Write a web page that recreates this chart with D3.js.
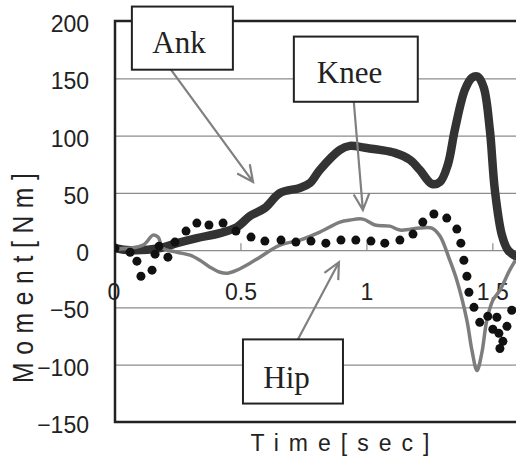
<!DOCTYPE html>
<html>
<head>
<meta charset="utf-8">
<script src="https://cdnjs.cloudflare.com/ajax/libs/d3/7.8.5/d3.min.js"></script>
<style>
	body { margin: 0; background: #fff; }
	svg { display: block; }
</style>
</head>
<body>
<div id="canvas"></div>
<script>
// ankle moment (thick dark line)
const ankTime = [0, 0.06, 0.179, 0.246, 0.325, 0.417, 0.484, 0.536, 0.595, 0.655, 0.734, 0.774, 0.813, 0.893, 0.933, 0.992, 1.052, 1.111, 1.171, 1.21, 1.258, 1.29, 1.321, 1.349, 1.389, 1.417, 1.44, 1.464, 1.488, 1.508, 1.536, 1.56, 1.59];
const ankMoment = [1.8, 0, 1.8, 6.1, 10.5, 14.9, 20.1, 29.8, 36.8, 49.9, 54.3, 58.6, 70, 87.5, 91, 89.3, 87.5, 84.9, 78.8, 70, 57.8, 59.5, 74.4, 105, 140, 150.5, 151.4, 141.8, 105, 52.5, 13.1, 0, -5.3];

// knee moment (gray line)
const kneeTime = [0, 0.111, 0.151, 0.171, 0.19, 0.246, 0.298, 0.337, 0.377, 0.417, 0.448, 0.484, 0.536, 0.575, 0.655, 0.734, 0.813, 0.893, 0.933, 0.984, 1.032, 1.091, 1.131, 1.21, 1.258, 1.29, 1.329, 1.357, 1.397, 1.417, 1.437, 1.456, 1.476, 1.5, 1.528, 1.567, 1.59];
const kneeMoment = [0.9, 4.4, 13.1, 11.4, 1.8, -1.8, -4.4, -8.8, -14.9, -19.3, -20.1, -17.5, -11.4, -6.1, 4.4, 8.8, 15.8, 24.5, 26.3, 27.1, 21.9, 21, 17.5, 19.3, 19.3, 12.3, -8.8, -26.3, -61.3, -87.5, -105, -90, -61.3, -43.8, -35, -17.5, -8.8];

// hip moment (dots)
const hipTime = [0, 0.06, 0.087, 0.103, 0.147, 0.159, 0.175, 0.21, 0.238, 0.282, 0.325, 0.373, 0.429, 0.48, 0.54, 0.595, 0.659, 0.718, 0.778, 0.837, 0.897, 0.956, 1.016, 1.071, 1.131, 1.183, 1.222, 1.266, 1.317, 1.357, 1.373, 1.385, 1.397, 1.405, 1.425, 1.448, 1.48, 1.516, 1.5, 1.524, 1.54, 1.528, 1.556, 1.575];
const hipMoment = [1.8, -1.8, -9.6, -22.8, -17.5, -3.5, 3.5, -6.1, 7, 16.6, 23.6, 21.9, 23.6, 16.6, 11.4, 7.9, 8.8, 7, 7.9, 6.1, 8.8, 8.8, 7.9, 6.1, 8.8, 14, 24.5, 31.5, 28, 18.4, 6.1, -8.8, -22.8, -36.8, -49.9, -63, -57.8, -58.6, -69, -72.6, -79.6, -85.8, -66.5, -52.5];

const yTicks = [-150, -100, -50, 0, 50, 100, 150, 200];
const xTicks = [0, 0.5, 1, 1.5];

const labels = ["Ank", "Knee", "Hip"];

// callout boxes, in data units
const callouts = [
	{ t0: 0.067, t1: 0.468, v0: 212.6, v1: 157.5, tx: 0.254, ty: 172.4, from: [0.222, 157.5], to: [0.548, 59.5] },
	{ t0: 0.71, t1: 1.202, v0: 186.4, v1: 129.5, tx: 0.931, ty: 146.1, from: [0.948, 129.5], to: [0.984, 35] },
	{ t0: 0.508, t1: 0.905, v0: -77.9, v1: -133.9, tx: 0.681, ty: -119.9, from: [0.726, -77.9], to: [0.889, -10.5] }
];

let width = 516;
let height = 461;
let plotLeft = 115, plotTop = 21, plotBottom = 422;

let svg = d3
	.select("#canvas")
	.append("svg")
	.attr("width", width)
	.attr("height", height);

let x = d3.scaleLinear().domain([0, 1.6]).range([plotLeft, plotLeft + 1.6 * 251.9]);
let y = d3.scaleLinear().domain([-150, 200]).range([plotBottom, plotTop]);

svg.append("defs")
	.append("clipPath")
	.attr("id", "plot")
	.append("rect")
	.attr("x", plotLeft)
	.attr("y", plotTop)
	.attr("width", width - plotLeft)
	.attr("height", plotBottom - plotTop);

// grid
svg
	.append("g")
	.selectAll("line")
	.data(yTicks.filter((d) => d > -150 && d < 200))
	.enter()
	.append("line")
	.attr("x1", plotLeft)
	.attr("x2", width)
	.attr("y1", (d) => y(d) + 0.5)
	.attr("y2", (d) => y(d) + 0.5)
	.attr("stroke", "#8c8c8c")
	.attr("stroke-width", 1.2);

// x ticks on zero line
svg
	.append("g")
	.selectAll("line")
	.data(xTicks.slice(1))
	.enter()
	.append("line")
	.attr("x1", (d) => x(d))
	.attr("x2", (d) => x(d))
	.attr("y1", y(0) - 7)
	.attr("y2", y(0))
	.attr("stroke", "#8c8c8c")
	.attr("stroke-width", 1.2);

// frame
svg.append("path")
	.attr("d", `M${width},${plotTop}H${plotLeft}V${plotBottom}H${width}`)
	.attr("fill", "none")
	.attr("stroke", "#222")
	.attr("stroke-width", 2.5);

// tick labels
svg
	.append("g")
	.selectAll("text")
	.data(yTicks)
	.enter()
	.append("text")
	.attr("x", 89)
	.attr("y", (d) => y(d) + 11)
	.attr("text-anchor", "end")
	.attr("font-family", "Liberation Sans, Arial, sans-serif")
	.attr("font-size", 23)
	.attr("fill", "#222")
	.text((d) => (d < 0 ? "\u2212" + Math.abs(d) : d));

svg
	.append("g")
	.selectAll("text")
	.data(xTicks)
	.enter()
	.append("text")
	.attr("x", (d) => x(d) - (d === 0 ? 1 : 0))
	.attr("y", y(0) + 50)
	.attr("text-anchor", "middle")
	.attr("font-family", "Liberation Sans, Arial, sans-serif")
	.attr("font-size", 23)
	.attr("fill", "#222")
	.text((d) => d);

// axis titles
svg.append("text")
	.attr("transform", "translate(33,383) rotate(-90) scale(0.85,1)")
	.attr("font-family", "Liberation Sans, Arial, sans-serif")
	.attr("font-size", 29)
	.attr("letter-spacing", 9)
	.attr("fill", "#222")
	.text("Moment[Nm]");

svg.append("text")
	.attr("x", 250.5)
	.attr("y", 451)
	.attr("font-family", "Liberation Sans, Arial, sans-serif")
	.attr("font-size", 23)
	.attr("letter-spacing", 10)
	.attr("fill", "#222")
	.text("Time[sec]");

// series
let plot = svg.append("g").attr("clip-path", "url(#plot)");

let line = d3
	.line()
	.x((d) => x(d[0]))
	.y((d) => y(d[1]))
	.curve(d3.curveCatmullRom.alpha(0.5));

plot.append("path")
	.attr("d", line(d3.zip(ankTime, ankMoment)))
	.attr("fill", "none")
	.attr("stroke", "#333")
	.attr("stroke-width", 8.5)
	.attr("stroke-linejoin", "round")
	.attr("stroke-linecap", "round");

plot.append("path")
	.attr("d", line(d3.zip(kneeTime, kneeMoment)))
	.attr("fill", "none")
	.attr("stroke", "#7d7d7d")
	.attr("stroke-width", 3.5)
	.attr("stroke-linejoin", "round");

plot
	.append("g")
	.selectAll("circle")
	.data(d3.zip(hipTime, hipMoment))
	.enter()
	.append("circle")
	.attr("cx", (d) => x(d[0]))
	.attr("cy", (d) => y(d[1]))
	.attr("r", 4.5)
	.attr("fill", "#111");

// callouts
let arrow = function (a, b) {
	let x1 = x(a[0]), y1 = y(a[1]), x2 = x(b[0]), y2 = y(b[1]);
	let ang = Math.atan2(y2 - y1, x2 - x1);
	let len = 18, spread = 0.45;
	let p = d3.path();
	p.moveTo(x1, y1);
	p.lineTo(x2, y2);
	p.moveTo(x2 - len * Math.cos(ang - spread), y2 - len * Math.sin(ang - spread));
	p.lineTo(x2, y2);
	p.lineTo(x2 - len * Math.cos(ang + spread), y2 - len * Math.sin(ang + spread));
	return p.toString();
};

let notes = svg
	.append("g")
	.selectAll("g")
	.data(callouts)
	.enter()
	.append("g");

notes.append("path")
	.attr("d", (d) => arrow(d.from, d.to))
	.attr("fill", "none")
	.attr("stroke", "#808080")
	.attr("stroke-width", 2.2);

notes.append("rect")
	.attr("x", (d) => x(d.t0))
	.attr("y", (d) => y(d.v0))
	.attr("width", (d) => x(d.t1) - x(d.t0))
	.attr("height", (d) => y(d.v1) - y(d.v0))
	.attr("fill", "#fff")
	.attr("stroke", "#222")
	.attr("stroke-width", 2);

notes.append("text")
	.attr("x", (d) => x(d.tx))
	.attr("y", (d) => y(d.ty))
	.attr("text-anchor", "middle")
	.attr("font-family", "Liberation Serif, Times New Roman, serif")
	.attr("font-size", 31)
	.attr("fill", "#222")
	.text((d, i) => labels[i]);
</script>
</body>
</html>
